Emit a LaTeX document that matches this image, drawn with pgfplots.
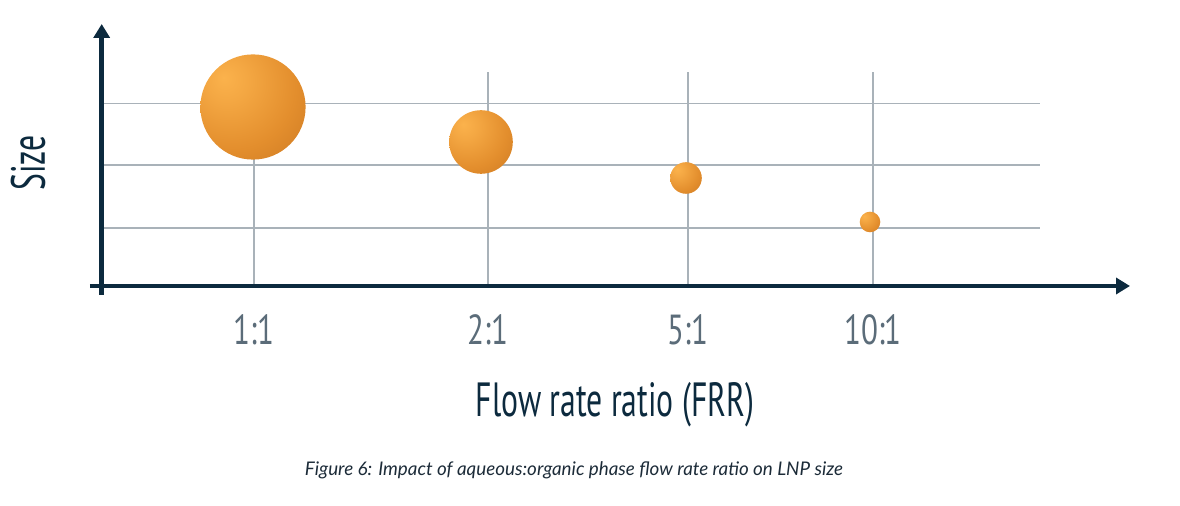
\documentclass[border=0pt]{standalone}
\usepackage{pgfplots}
\pgfplotsset{compat=1.18}
\usepackage{pgfplotstable}
\usepackage{fontspec}
\setmainfont{Lato}
\newfontfamily\condfont[FakeStretch=0.66]{PT Sans}
\newfontfamily\tickfont[FakeStretch=0.74]{PT Sans}
\usetikzlibrary{arrows.meta}
\definecolor{navy}{HTML}{0C2A3E}
\definecolor{gridc}{HTML}{A9B2B9}
\definecolor{tickc}{HTML}{5B6C79}
\definecolor{capc}{HTML}{1C2B38}
\definecolor{b1}{HTML}{FBB24C}
\definecolor{b2}{HTML}{E38E2D}
\definecolor{b3}{HTML}{C77420}
\definecolor{b4}{HTML}{A95F1A}
\pgfdeclareradialshading{bubble}{\pgfpoint{-14bp}{14bp}}{color(0bp)=(b1);color(10bp)=(b1!70!b2);color(30bp)=(b2);color(52bp)=(b3);color(64bp)=(b4);color(100bp)=(b4)}
\pgfdeclareplotmark{bubble}{\pgfpathcircle{\pgfpointorigin}{\pgfplotmarksize}\pgfshadepath{bubble}{0}\pgfusepath{}}
\pgfplotstableread{
x y r
253 399 26.3
481 364 15.9
686 328 7.9
870 284 5.15
}\bubbles
\begin{document}
\begin{tikzpicture}
\begin{axis}[
  x=0.5pt, y=0.5pt,
  xmin=101, xmax=1040, ymin=220, ymax=434,
  axis line style={draw=none},
  clip=false,
  xtick={254,488,688,873},
  xticklabels={1:1,2:1,5:1,10:1},
  ytick={278,341,402.5},
  yticklabels={},
  major tick length=0pt,
  grid=major,
  major grid style={gridc, line width=0.75pt},
  xticklabel style={font=\tickfont\fontsize{21}{21}\selectfont, text=tickc, anchor=base, yshift=-29.5pt, inner sep=0pt},
]
\path (axis cs:0,0) rectangle (axis cs:1180,506);
\draw[navy, line width=2.25pt, -{Triangle[length=7pt,width=8pt]}] (axis cs:90,220) -- (axis cs:1130,220);
\draw[navy, line width=2.25pt, -{Triangle[length=7pt,width=8pt]}] (axis cs:101.7,211) -- (axis cs:101.7,482);
\addplot[scatter, only marks, mark=bubble,
  visualization depends on={\thisrow{r}\as\rr},
  scatter/@pre marker code/.append style={/tikz/mark size=\rr pt}]
  table[x=x,y=y] {\bubbles};
\node[navy, font=\condfont\fontsize{24}{24}\selectfont] at (axis cs:615,101) {Flow rate ratio (FRR)};
\node[navy, rotate=90, font=\condfont\fontsize{24}{24}\selectfont] at (axis cs:28,343) {Size};
\node[capc, font=\itshape\fontsize{9.4}{11}\selectfont] at (axis cs:574,36) {Figure 6: Impact of aqueous:organic phase flow rate ratio on LNP size};
\end{axis}
\end{tikzpicture}
\end{document}
